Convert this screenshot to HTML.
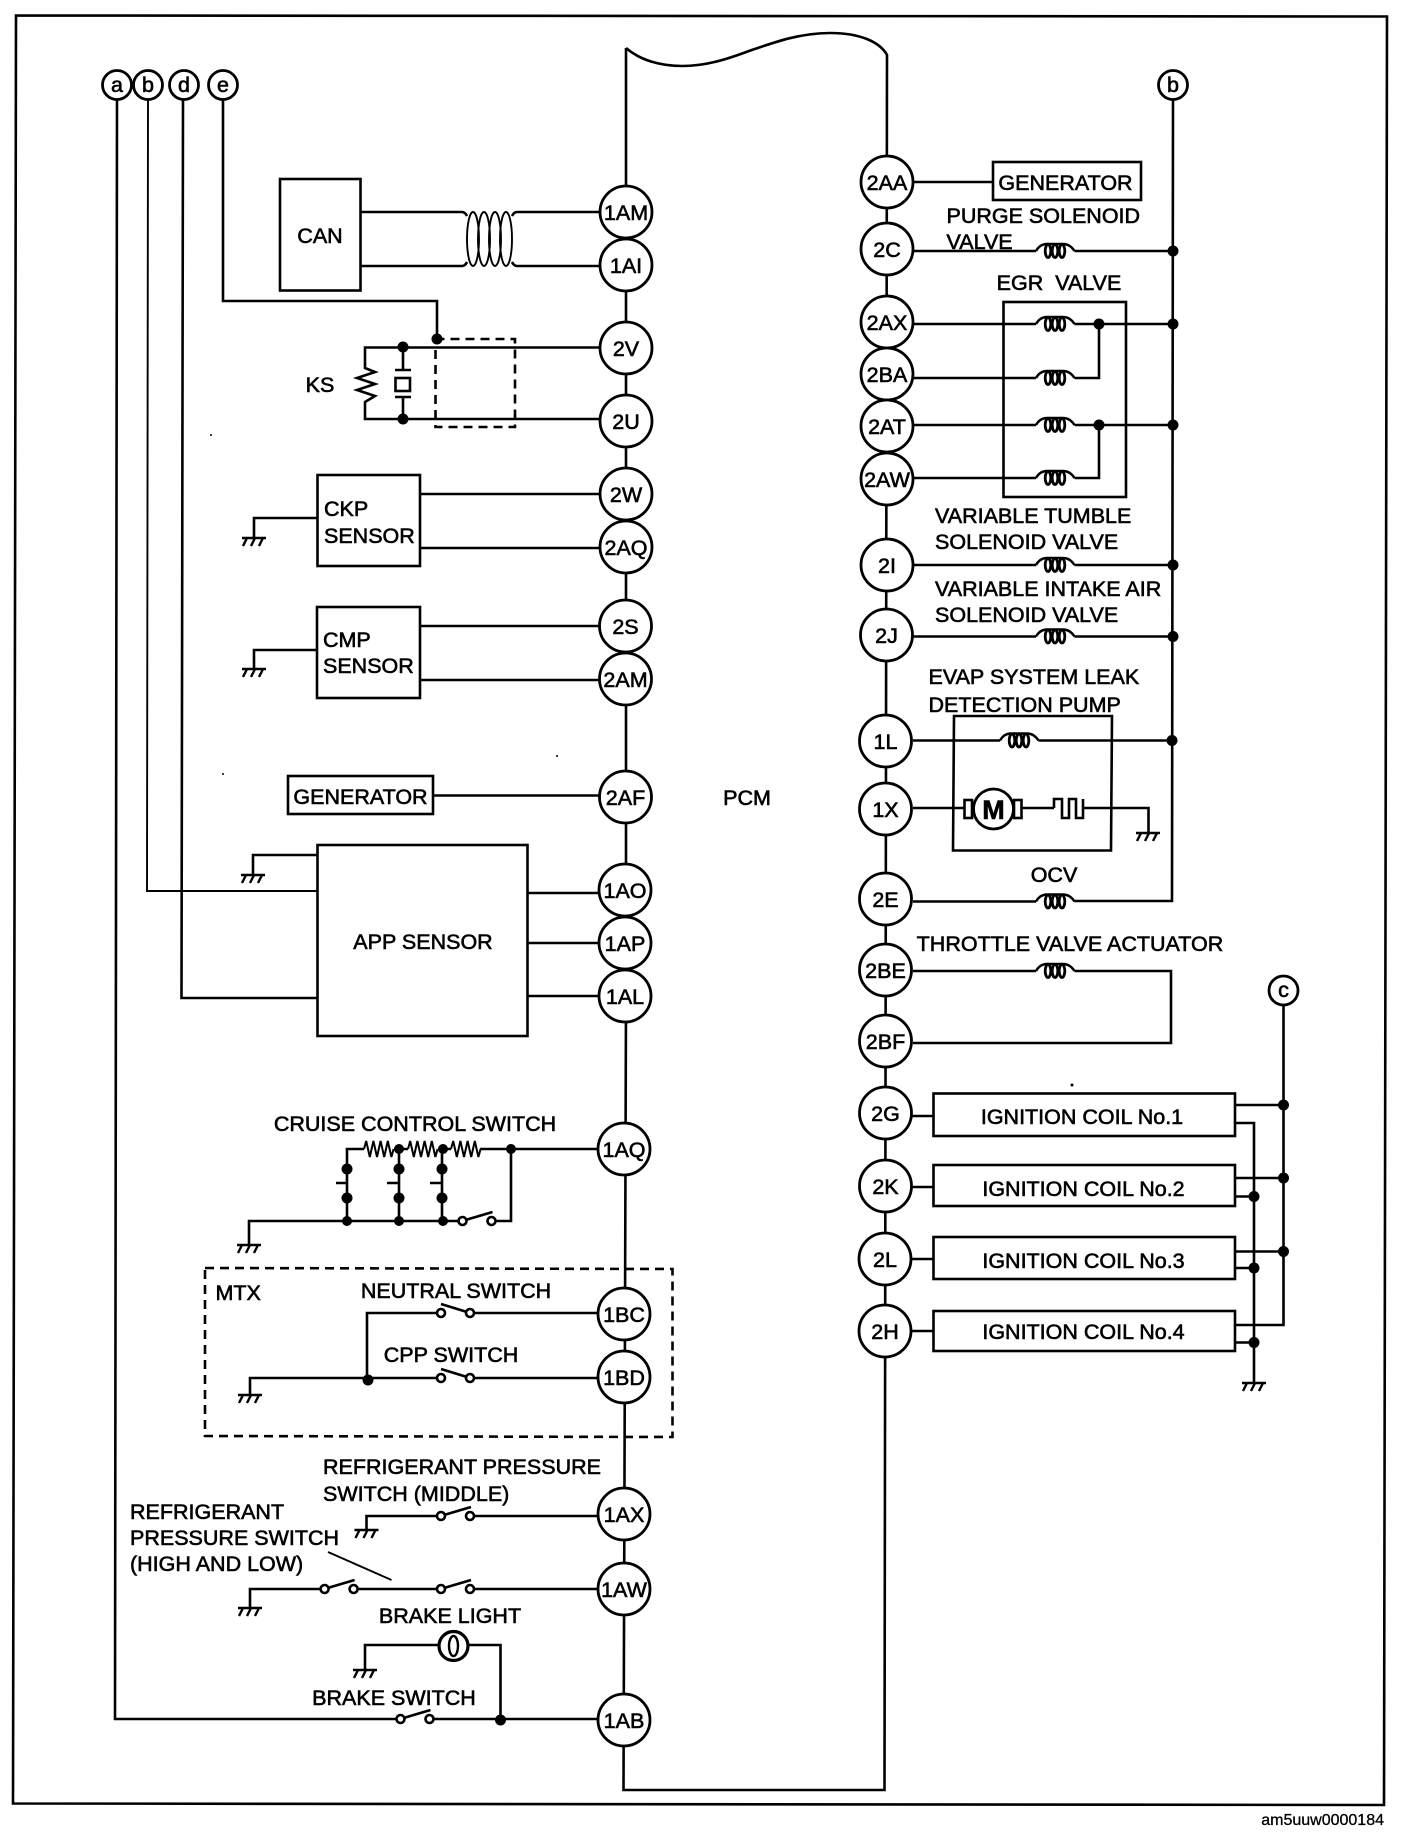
<!DOCTYPE html>
<html><head><meta charset="utf-8"><title>PCM wiring diagram</title>
<style>
html,body{margin:0;padding:0;background:#fff}
svg{display:block}
text{font-family:"Liberation Sans",Arial,sans-serif;font-size:21.5px;fill:#000;stroke:#000;stroke-width:.6px}
.m{text-anchor:middle}
.w{fill:none;stroke:#000;stroke-width:2.6}
.t{fill:none;stroke:#000;stroke-width:1.9}
.c{fill:#fff;stroke:#000;stroke-width:2.8}
.d{fill:#000;stroke:none}
.dash{fill:none;stroke:#000;stroke-width:2.6;stroke-dasharray:9 6}
</style></head><body>
<svg width="1408" height="1842" viewBox="0 0 1408 1842" xmlns="http://www.w3.org/2000/svg">
<defs>
<g id="gnd" fill="none" stroke="#000" stroke-width="2.4"><path d="M-12 0H12M-7 0L-11 8M1 0L-3 8M9 0L5 8"/></g>
<g id="coil" fill="none" stroke="#000" stroke-width="2.4"><path d="M0 0Q4-7 11-7H27Q34-7 38.5 0"/><ellipse cx="12" cy="0" rx="2.8" ry="6.5" stroke-width="2.8"/><ellipse cx="19" cy="0" rx="2.8" ry="6.5" stroke-width="2.8"/><ellipse cx="26" cy="0" rx="2.8" ry="6.5" stroke-width="2.8"/></g>
<g id="swu"><path d="M3-1L30-9" fill="none" stroke="#000" stroke-width="2.6"/><circle cx="0" cy="0" r="4" fill="#fff" stroke="#000" stroke-width="2.6"/><circle cx="29" cy="0" r="4" fill="#fff" stroke="#000" stroke-width="2.6"/></g>
<g id="swd"><path d="M0-9L26-1" fill="none" stroke="#000" stroke-width="2.6"/><circle cx="0" cy="0" r="4" fill="#fff" stroke="#000" stroke-width="2.6"/><circle cx="29" cy="0" r="4" fill="#fff" stroke="#000" stroke-width="2.6"/></g>
<path id="res" d="M0 0l2.2-8 3.6 16 3.6-16 3.6 16 3.6-16 3.6 16 3.6-16 3.6 16 2.2-8" fill="none" stroke="#000" stroke-width="2"/>
</defs>
<rect width="1408" height="1842" fill="#fff"/>

<!-- frame -->
<path class="w" d="M16 15.5L1387 16.5L1384 1805L13 1803.5Z"/>

<!-- PCM outline -->
<path class="w" d="M626 48V1000L623.5 1790H884.5L887 55C880 42 860 33 830 33C800 33 775 42 749 51C725 60 705 66 682 66C660 66 640 60 626 48"/>

<!-- left signal buses -->
<path class="w" d="M117 100L115 1719H397M430 1719H597"/>
<path class="t" d="M148 100L147 891H317"/>
<path class="w" d="M183 100L181.5 998H317"/>
<path class="w" d="M223 100V301H437V339"/>
<circle class="d" cx="437" cy="339" r="5.5"/>

<!-- CAN -->
<rect class="w" x="280" y="179" width="80.5" height="111.5"/>
<path class="w" d="M360 212H462Q465 212 467 216M512 216Q514 212 517 212H600M360 266H462Q465 266 467 262M512 262Q514 266 517 266H600"/>
<g class="t"><ellipse cx="473" cy="239" rx="6" ry="27"/><ellipse cx="484" cy="239" rx="6" ry="27"/><ellipse cx="495" cy="239" rx="6" ry="27"/><ellipse cx="506" cy="239" rx="6" ry="27"/></g>

<!-- KS -->
<path class="w" d="M600 347.5H365V368L375 372L357 378L375 384L357 390L375 396L365 402V419H600"/>
<path class="w" d="M403 347V370M395 370H411M403 397V419M395 397H411"/>
<rect class="w" x="395.5" y="378" width="14.5" height="13"/>
<circle class="d" cx="403" cy="347" r="5.5"/><circle class="d" cx="403" cy="419" r="5.5"/>
<rect class="dash" x="435.5" y="339" width="79.5" height="88"/>

<!-- CKP -->
<rect class="w" x="317.5" y="475" width="102.5" height="91"/>
<path class="w" d="M420 494H600M420 548H600M317 518H254V538"/><use href="#gnd" x="254" y="538"/>
<!-- CMP -->
<rect class="w" x="317" y="607" width="103" height="91"/>
<path class="w" d="M420 626H600M420 680H600M317 650H254V669"/><use href="#gnd" x="254" y="669"/>
<!-- generator left -->
<rect class="w" x="288" y="776" width="145" height="38"/>
<path class="w" d="M433 795.5H600"/>
<!-- APP -->
<rect class="w" x="317.5" y="845" width="210" height="191"/>
<path class="w" d="M528 893H600M528 943H600M528 996H600M317 855H253V875"/><use href="#gnd" x="253" y="875"/>

<!-- cruise -->
<path class="w" d="M364 1149H347V1221M394 1149H408M438 1149H451M480 1149H598M511 1149V1221H496M458 1221H249V1245"/>
<use href="#res" x="364" y="1149"/><use href="#res" x="408" y="1149"/><use href="#res" x="451" y="1149"/>
<path class="w" d="M399 1149V1221M442 1149V1221M336 1183H347M387 1183H399M430 1183H442"/>
<g class="d">
<circle cx="399" cy="1149" r="5"/><circle cx="443" cy="1149" r="5"/><circle cx="511" cy="1149" r="5"/>
<circle cx="347" cy="1169" r="5.5"/><circle cx="347" cy="1198" r="5.5"/><circle cx="399" cy="1169" r="5.5"/><circle cx="399" cy="1198" r="5.5"/><circle cx="442" cy="1169" r="5.5"/><circle cx="442" cy="1198" r="5.5"/>
<circle cx="347" cy="1221" r="5"/><circle cx="399" cy="1221" r="5"/><circle cx="443" cy="1221" r="5"/>
</g>
<use href="#swu" x="462.5" y="1221"/>
<use href="#gnd" x="249" y="1245"/>

<!-- MTX -->
<path class="dash" d="M205 1268L672.5 1269V1437L205 1436Z"/>
<path class="w" d="M367 1378V1313H437M474 1313H597M250 1395V1378H437M474 1378H597"/>
<circle class="d" cx="368" cy="1380" r="5.5"/>
<use href="#swd" x="441" y="1313"/><use href="#swd" x="441" y="1378"/>
<use href="#gnd" x="250" y="1395"/>

<!-- refrigerant -->
<path class="w" d="M366.5 1530V1516H437M474 1516H597"/><use href="#swu" x="441" y="1516"/><use href="#gnd" x="366.5" y="1530"/>
<path class="w" d="M250 1608V1589H321M358 1589H437M474 1589H597"/><use href="#swu" x="324.6" y="1589"/><use href="#swu" x="441" y="1589"/><use href="#gnd" x="250" y="1608"/>
<path class="t" d="M328 1552L391.5 1580"/>

<!-- brake -->
<path class="w" d="M365 1670V1645H440M468 1645H500.5V1720"/>
<circle class="c" cx="453.5" cy="1646" r="14.5" style="stroke-width:3.2"/>
<ellipse cx="453.5" cy="1646" rx="4.5" ry="10" fill="none" stroke="#000" stroke-width="2.4"/>
<use href="#gnd" x="365" y="1670"/>
<use href="#swu" x="400.5" y="1719"/>
<circle class="d" cx="500.5" cy="1720" r="5.5"/>

<!-- right bus b -->
<path class="w" d="M1173 100L1172 901H1074.5"/>
<!-- right wires -->
<rect class="w" x="993" y="162" width="148" height="38"/>
<path class="w" d="M913 182H993"/>
<path class="w" d="M913 251H1036M1074.5 251H1173"/><use href="#coil" x="1036" y="251"/>
<rect class="w" x="1003.5" y="302" width="122.5" height="195"/>
<path class="w" d="M913 324H1036M1074.5 324H1173"/><use href="#coil" x="1036" y="324"/>
<path class="w" d="M913 378H1036M1074.5 378H1099V324"/><use href="#coil" x="1036" y="378"/>
<path class="w" d="M913 425H1036M1074.5 425H1173"/><use href="#coil" x="1036" y="425"/>
<path class="w" d="M913 478H1036M1074.5 478H1099V425"/><use href="#coil" x="1036" y="478"/>
<path class="w" d="M913 565H1036M1074.5 565H1173"/><use href="#coil" x="1036" y="565"/>
<path class="w" d="M913 636.5H1036M1074.5 636.5H1173"/><use href="#coil" x="1036" y="636.5"/>
<g class="d"><circle cx="1173" cy="251" r="5.5"/><circle cx="1099" cy="324" r="5.5"/><circle cx="1173" cy="324" r="5.5"/><circle cx="1099" cy="425" r="5.5"/><circle cx="1173" cy="425" r="5.5"/><circle cx="1173" cy="565" r="5.5"/><circle cx="1173" cy="636.5" r="5.5"/><circle cx="1172" cy="740.5" r="5.5"/></g>
<!-- EVAP -->
<path class="w" d="M954 716H1112L1111 850.5H953Z"/>
<path class="w" d="M913 740.5H1000M1038.5 740.5H1172"/><use href="#coil" x="1000" y="740.5"/>
<path class="w" d="M913 808H964M1021 808H1054M1084 808H1148.5V833"/>
<rect class="w" x="964.5" y="800" width="7.5" height="18"/><rect class="w" x="1014" y="800" width="7.5" height="18"/>
<circle class="c" cx="993.5" cy="809" r="20"/>
<path class="w" d="M1054 808V799H1062V818H1069V799H1076V818H1083V799"/>
<use href="#gnd" x="1148" y="833"/>
<!-- OCV -->
<path class="w" d="M913 901.5H1036"/><use href="#coil" x="1036" y="901.5"/>
<!-- throttle -->
<path class="w" d="M913 971H1036M1074.5 971H1171V1043H913"/><use href="#coil" x="1036" y="971"/>

<!-- ignition -->
<path class="w" d="M1283.5 1005V1325H1235M1235 1105H1283.5M1235 1178H1283.5M1235 1251.5H1283.5M1235 1123H1254V1382M1235 1196.5H1254M1235 1268H1254M1235 1342.5H1254"/>
<g class="w">
<rect x="933.5" y="1093.5" width="301.5" height="42.5"/>
<rect x="933.5" y="1165" width="301.5" height="41"/>
<rect x="933.5" y="1237" width="301.5" height="42"/>
<rect x="933.5" y="1311" width="301.5" height="40"/>
<path d="M912 1116H933M912 1187H933M912 1259H933M912 1331H933"/>
</g>
<g class="d"><circle cx="1283.5" cy="1105" r="5.5"/><circle cx="1283.5" cy="1178" r="5.5"/><circle cx="1283.5" cy="1251.5" r="5.5"/><circle cx="1254" cy="1196.5" r="5.5"/><circle cx="1254" cy="1268" r="5.5"/><circle cx="1254" cy="1342.5" r="5.5"/></g>
<use href="#gnd" x="1254" y="1383"/>

<!-- specks -->
<g class="d"><circle cx="1072" cy="1085" r="1.5"/><circle cx="557" cy="756" r="1"/><circle cx="223" cy="774" r="1"/><circle cx="211" cy="435" r="1"/></g>

<!-- connector circles -->
<g class="c">
<circle cx="117" cy="85" r="14.5"/><circle cx="148" cy="85" r="14.5"/><circle cx="184" cy="85" r="14.5"/><circle cx="223" cy="85" r="14.5"/>
<circle cx="1173" cy="85" r="14.5"/><circle cx="1283.5" cy="990.5" r="14.5"/>
<circle cx="626" cy="212" r="26"/><circle cx="626" cy="265" r="26"/><circle cx="626" cy="348" r="26"/><circle cx="626" cy="421" r="26"/><circle cx="626" cy="494" r="26"/><circle cx="626" cy="547" r="26"/><circle cx="625.5" cy="626" r="26"/><circle cx="625.5" cy="679" r="26"/><circle cx="625.5" cy="797" r="26"/><circle cx="625" cy="890" r="26"/><circle cx="625" cy="943" r="26"/><circle cx="625" cy="996" r="26"/><circle cx="624" cy="1149" r="26"/><circle cx="624" cy="1314" r="26"/><circle cx="624" cy="1377" r="26"/><circle cx="624" cy="1514" r="26"/><circle cx="624" cy="1589" r="26"/><circle cx="624" cy="1720" r="26"/>
<circle cx="887" cy="182" r="26"/><circle cx="887" cy="249" r="26"/><circle cx="887" cy="322" r="26"/><circle cx="887" cy="374" r="26"/><circle cx="887" cy="426" r="26"/><circle cx="887" cy="479" r="26"/><circle cx="887" cy="565" r="26"/><circle cx="886.5" cy="635" r="26"/><circle cx="885.5" cy="741" r="26"/><circle cx="885.5" cy="809" r="26"/><circle cx="885.5" cy="899" r="26"/><circle cx="885.5" cy="970" r="26"/><circle cx="885.5" cy="1041" r="26"/><circle cx="885.5" cy="1113" r="26"/><circle cx="885.5" cy="1186" r="26"/><circle cx="885" cy="1259" r="26"/><circle cx="885" cy="1331" r="26"/>
</g>

<!-- connector labels -->
<g class="m">
<text x="117" y="92">a</text><text x="148" y="92">b</text><text x="184" y="92">d</text><text x="223" y="92">e</text>
<text x="1173" y="92">b</text><text x="1283.5" y="997">c</text>
<text x="626" y="220">1AM</text><text x="626" y="273">1AI</text><text x="626" y="356">2V</text><text x="626" y="429">2U</text><text x="626" y="502">2W</text><text x="626" y="555">2AQ</text><text x="625.5" y="634">2S</text><text x="625.5" y="687">2AM</text><text x="625.5" y="805">2AF</text><text x="625" y="898">1AO</text><text x="625" y="951">1AP</text><text x="625" y="1004">1AL</text><text x="624" y="1157">1AQ</text><text x="624" y="1322">1BC</text><text x="624" y="1385">1BD</text><text x="624" y="1522">1AX</text><text x="624" y="1597">1AW</text><text x="624" y="1728">1AB</text>
<text x="887" y="190">2AA</text><text x="887" y="257">2C</text><text x="887" y="330">2AX</text><text x="887" y="382">2BA</text><text x="887" y="434">2AT</text><text x="887" y="487">2AW</text><text x="887" y="573">2I</text><text x="886.5" y="643">2J</text><text x="885.5" y="749">1L</text><text x="885.5" y="817">1X</text><text x="885.5" y="907">2E</text><text x="885.5" y="978">2BE</text><text x="885.5" y="1049">2BF</text><text x="885.5" y="1121">2G</text><text x="885.5" y="1194">2K</text><text x="885" y="1267">2L</text><text x="885" y="1339">2H</text>
<text x="320" y="243">CAN</text><text x="320" y="392">KS</text>
<text x="360.5" y="804">GENERATOR</text><text x="423" y="949">APP SENSOR</text>
<text x="415" y="1131">CRUISE CONTROL SWITCH</text>
<text x="456" y="1298">NEUTRAL SWITCH</text><text x="451" y="1362">CPP SWITCH</text>
<text x="450" y="1623">BRAKE LIGHT</text><text x="394" y="1705">BRAKE SWITCH</text>
<text x="1065.5" y="190">GENERATOR</text><text x="1059" y="290">EGR&#160;&#160;VALVE</text>
<text x="747" y="805">PCM</text><text x="1054" y="882">OCV</text><text x="1070" y="951">THROTTLE VALVE ACTUATOR</text>
<text x="1082" y="1124">IGNITION COIL No.1</text><text x="1083.5" y="1196">IGNITION COIL No.2</text><text x="1083.5" y="1268">IGNITION COIL No.3</text><text x="1083.5" y="1339">IGNITION COIL No.4</text>
</g>
<text x="324" y="516">CKP</text><text x="324" y="543">SENSOR</text>
<text x="323" y="647">CMP</text><text x="323" y="673">SENSOR</text>
<text x="215.5" y="1300">MTX</text>
<text x="323" y="1474">REFRIGERANT PRESSURE</text><text x="323" y="1501">SWITCH (MIDDLE)</text>
<text x="130" y="1519">REFRIGERANT</text><text x="130" y="1545">PRESSURE SWITCH</text><text x="130" y="1571">(HIGH AND LOW)</text>
<text x="946.5" y="223">PURGE SOLENOID</text><text x="946.5" y="249">VALVE</text>
<text x="935" y="523">VARIABLE TUMBLE</text><text x="935" y="549">SOLENOID VALVE</text>
<text x="935" y="596">VARIABLE INTAKE AIR</text><text x="935" y="622">SOLENOID VALVE</text>
<text x="928.5" y="684">EVAP SYSTEM LEAK</text><text x="928.5" y="712">DETECTION PUMP</text>
<text x="993.5" y="819" class="m" style="font-weight:bold;font-size:27px">M</text>
<text x="1384" y="1825" style="text-anchor:end;font-size:16px;stroke-width:.3px">am5uuw0000184</text>
</svg>
</body></html>
